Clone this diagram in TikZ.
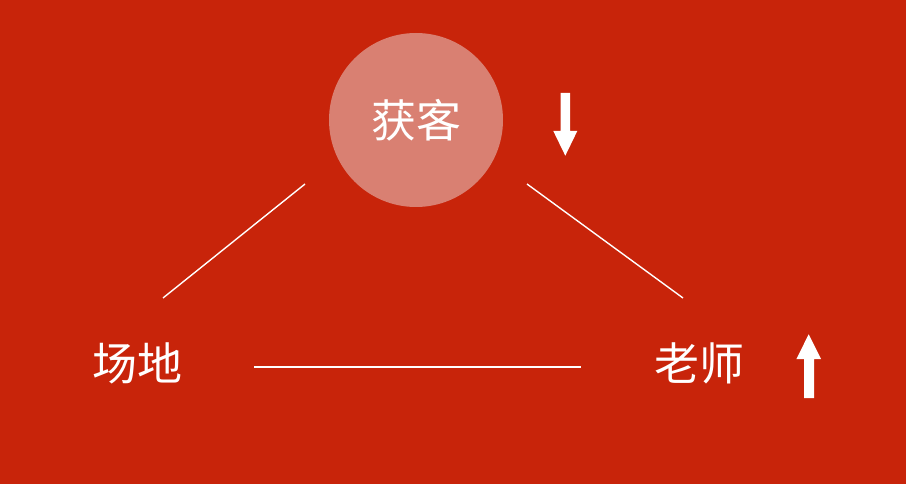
\documentclass[tikz,border=0pt]{standalone}
\usepackage{fontspec}
\newfontfamily\cjk{Noto Sans CJK SC}
\definecolor{bgred}{HTML}{C8240A}
\definecolor{circ}{HTML}{D98072}
\begin{document}
\begin{tikzpicture}[x=1pt,y=-1pt,
  lbl/.style={text=white,font=\cjk\fontsize{45}{45}\selectfont,inner sep=0pt},
  link/.style={draw=white,line width=1.4pt},
  fatarrow/.style={fill=white,draw=none}]
\fill[bgred] (0,0) rectangle (906,484);
\useasboundingbox (0,0) rectangle (906,484);
\node[circle,fill=circ,minimum size=174pt,inner sep=0pt] (top) at (416,120) {};
\node[lbl] (toptext) at (416,120) {获客};
\node[lbl] (left) at (137,363) {场地};
\node[lbl] (right) at (699,363) {老师};
\coordinate (l1a) at (305,184); \coordinate (l1b) at (163,298);
\coordinate (l2a) at (527,184); \coordinate (l2b) at (683,298);
\coordinate (l3a) at (254,367); \coordinate (l3b) at (581,367);
\draw[link] (l1a) -- (l1b);
\draw[link] (l2a) -- (l2b);
\draw[link] (l3a) -- (l3b);
% down arrow
\fill[fatarrow] (560.5,93) -- (570,93) -- (570,131) -- (577.3,131) -- (565.3,155.7) -- (553.3,131) -- (560.5,131) -- cycle;
% up arrow
\fill[fatarrow] (804,398) -- (814,398) -- (814,359) -- (821,359) -- (808.7,334.3) -- (796.4,359) -- (804,359) -- cycle;
\end{tikzpicture}
\end{document}
